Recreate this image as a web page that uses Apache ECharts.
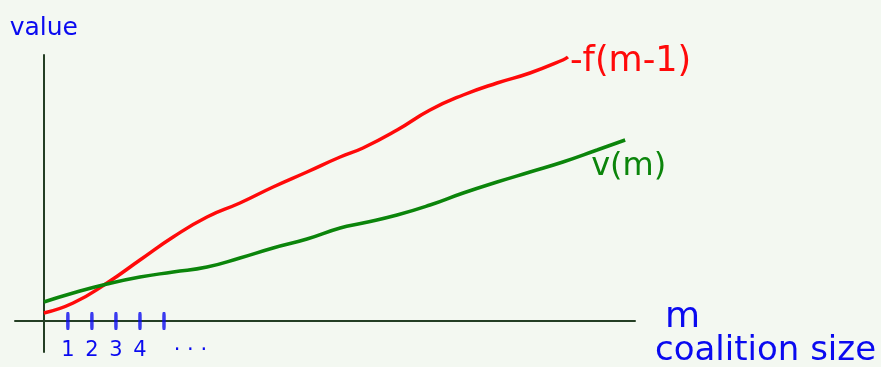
<!DOCTYPE html>
<html>
<head>
<meta charset="utf-8">
<script src="https://cdn.jsdelivr.net/npm/echarts@6/dist/echarts.min.js"></script>
<style>
  html, body { margin: 0; padding: 0; background: #f3f8f1; }
  #chart { width: 881px; height: 367px; }
</style>
</head>
<body>
<div id="chart"></div>
<script>
// Coalition size m on x, value on y
const fX = [0, 1.22, 2.63, 4.0, 5.38, 6.79, 8.16, 9.54, 10.95, 12.33, 13.28, 14.7, 16.07, 17.45, 18.86, 20.23, 21.6, 21.81];
const fY = [0.8, 1.8, 3.8, 6.1, 8.4, 10.4, 11.8, 13.4, 14.9, 16.4, 17.3, 19.1, 21.1, 22.6, 23.8, 24.8, 26.1, 26.4];
const vX = [0, 1.22, 2.63, 4.0, 5.38, 6.79, 8.16, 9.54, 10.95, 12.33, 13.28, 14.7, 16.07, 17.45, 18.86, 20.23, 21.6, 23.02, 24.19];
const vY = [1.9, 2.8, 3.7, 4.4, 4.9, 5.4, 6.3, 7.3, 8.2, 9.3, 9.8, 10.6, 11.6, 12.8, 13.9, 14.9, 15.9, 17.1, 18.1];
const tickValues = [1, 2, 3, 4, 5];
const tickLabelPos = [1, 2, 3, 4, 6.1];
const tickLabels = ['1', '2', '3', '4', '· · ·'];

const FONT = 'DejaVu Sans';
const BLUE = '#0a0af0';
const RED = '#ff0a0a';
const GREEN = '#0b850b';
const AXIS = '#243f24';

const zip = (xs, ys) => xs.map((x, i) => [x, ys[i]]);

const chart = echarts.init(document.getElementById('chart'));
chart.setOption({
  backgroundColor: '#f3f8f1',
  animation: false,
  grid: { left: 15, right: 246, top: 55, bottom: 15, outerBoundsMode: 'none', containLabel: false },
  xAxis: {
    type: 'value',
    min: -1.2,
    max: 24.6,
    splitLine: { show: false },
    axisLine: { onZero: true, lineStyle: { color: AXIS, width: 2 } },
    axisTick: { show: false },
    axisLabel: {
      customValues: tickLabelPos,
      formatter: (v) => tickLabels[tickLabelPos.indexOf(v)] || '',
      color: BLUE, fontFamily: FONT, fontSize: 21, margin: -12
    },
    name: '{m|m}\n{c|coalition size}',
    nameLocation: 'end',
    nameGap: 20,
    nameTextStyle: {
      padding: [30, 0, 0, 0],
      rich: {
        m: { color: BLUE, fontFamily: FONT, fontSize: 36, lineHeight: 30, padding: [0, 0, 0, 10] },
        c: { color: BLUE, fontFamily: FONT, fontSize: 34, lineHeight: 36 }
      }
    }
  },
  yAxis: {
    type: 'value',
    min: -3.1,
    max: 26.6,
    splitLine: { show: false },
    axisLine: { onZero: true, lineStyle: { color: AXIS, width: 2 } },
    axisTick: { show: false },
    axisLabel: { show: false },
    name: 'value',
    nameLocation: 'end',
    nameGap: 14,
    nameTextStyle: { color: BLUE, fontFamily: FONT, fontSize: 25, align: 'center' }
  },
  series: [
    {
      name: 'f(m-1)',
      type: 'line',
      data: zip(fX, fY),
      smooth: 0.5,
      showSymbol: false,
      lineStyle: { color: RED, width: 3.5 },
      endLabel: {
        show: true,
        formatter: '-f(m-1)',
        color: RED, fontFamily: FONT, fontSize: 35,
        offset: [-6, 5]
      }
    },
    {
      name: 'v(m)',
      type: 'line',
      data: zip(vX, vY),
      smooth: 0.5,
      showSymbol: false,
      lineStyle: { color: GREEN, width: 3.5 },
      endLabel: {
        show: true,
        formatter: 'v(m)',
        color: GREEN, fontFamily: FONT, fontSize: 32,
        offset: [-42, 27]
      }
    },
    {
      name: 'ticks',
      type: 'scatter',
      data: tickValues.map((m) => [m, 0]),
      symbol: 'roundRect',
      symbolSize: [3.5, 18],
      itemStyle: { color: BLUE },
      silent: true
    }
  ]
});
</script>
</body>
</html>
